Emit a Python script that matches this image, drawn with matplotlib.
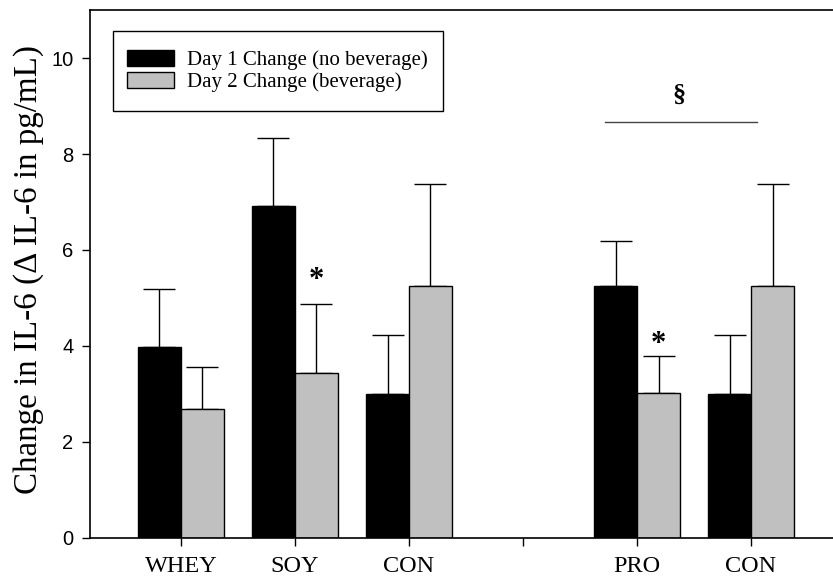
import matplotlib
matplotlib.use("Agg")
import matplotlib.pyplot as plt
from matplotlib.patches import Patch, Rectangle

categories = ["WHEY", "SOY", "CON", "", "PRO", "CON"]
day1 = [3.98, 6.92, 3.0, None, 5.24, 3.0]
day1_err = [1.21, 1.41, 1.23, None, 0.94, 1.23]
day2 = [2.68, 3.44, 5.24, None, 3.01, 5.24]
day2_err = [0.88, 1.43, 2.13, None, 0.78, 2.13]
series_names = ["Day 1 Change (no beverage)", "Day 2 Change (beverage)"]
star_positions = [(1, 5.37), (4, 4.03)]
sig_line = (3.72, 5.05, 8.67)
sig_mark = (4.37, 9.22)

W, H = 833, 579
fig = plt.figure(figsize=(W / 100, H / 100), dpi=100)
left, right_px, bottom_px, top_px = 90, 833, 537.5, 10.3
ax = fig.add_axes([left / W, 1 - bottom_px / H, (right_px - left) / W, (bottom_px - top_px) / H])

serif = ["Liberation Serif", "DejaVu Serif"]
sans = ["Liberation Sans", "DejaVu Sans"]

bw = 0.377
xs = [i for i, v in enumerate(day1) if v is not None]
d1 = [day1[i] for i in xs]
d1e = [day1_err[i] for i in xs]
d2 = [day2[i] for i in xs]
d2e = [day2_err[i] for i in xs]

ax.bar([x - bw / 2 for x in xs], d1, width=bw, color="black", edgecolor="black", linewidth=1.0, zorder=2)
ax.bar([x + bw / 2 for x in xs], d2, width=bw, color="#c0c0c0", edgecolor="black", linewidth=1.0, zorder=2)
ax.errorbar([x - bw / 2 for x in xs], d1, yerr=[[0] * len(d1), d1e], fmt="none", ecolor="black",
            elinewidth=1.0, capsize=11.5, capthick=1.0, zorder=1)
ax.errorbar([x + bw / 2 for x in xs], d2, yerr=[[0] * len(d2), d2e], fmt="none", ecolor="black",
            elinewidth=1.0, capsize=11.5, capthick=1.0, zorder=1)

for (xi, yv) in star_positions:
    ax.text(xi + bw / 2, yv, "*", ha="center", va="center", fontsize=22, family=serif, fontweight="bold")

ax.plot([sig_line[0], sig_line[1]], [sig_line[2], sig_line[2]], color="#444444", linewidth=1.0)
ax.text(sig_mark[0], sig_mark[1], "§", ha="center", va="center", fontsize=19, family=serif, fontweight="bold")

ax.set_xlim(-0.798, 5.719)
ax.set_ylim(0, 11)
ax.set_xticks(range(len(categories)))
ax.set_xticklabels(categories, family=serif, fontsize=17.5)
ax.set_yticks([0, 2, 4, 6, 8, 10])
ax.set_yticklabels(["0", "2", "4", "6", "8", "10"], family=sans, fontsize=14.5)
ax.tick_params(axis="both", direction="out", length=6, width=1.0)
ax.tick_params(axis="x", pad=7)
ax.tick_params(axis="y", pad=6)
ax.set_ylabel("Change in IL-6 (\u0394 IL-6 in pg/mL)", family=serif, fontsize=23.8)
ax.yaxis.set_label_coords(-0.062, 0.509)

for s in ["left", "bottom", "top"]:
    ax.spines[s].set_linewidth(1.2)
ax.spines["right"].set_visible(False)

handles = [Patch(facecolor="black", edgecolor="black", linewidth=1.0),
           Patch(facecolor="#c0c0c0", edgecolor="black", linewidth=1.0)]
leg = ax.legend(handles, series_names, loc="upper left", bbox_to_anchor=(0.0498, 0.9247),
                borderaxespad=0, frameon=False,
                prop={"family": serif, "size": 15}, handlelength=2.26, handleheight=0.77,
                handletextpad=0.62, labelspacing=0.1, borderpad=0.0)
frame = Rectangle((0.0306, 0.8096), 0.4751 - 0.0306, 0.9613 - 0.8096, transform=ax.transAxes,
                  facecolor="white", edgecolor="black", linewidth=1.0, zorder=4)
ax.add_patch(frame)
leg.set_zorder(5)

fig.savefig("out.png", dpi=100)
